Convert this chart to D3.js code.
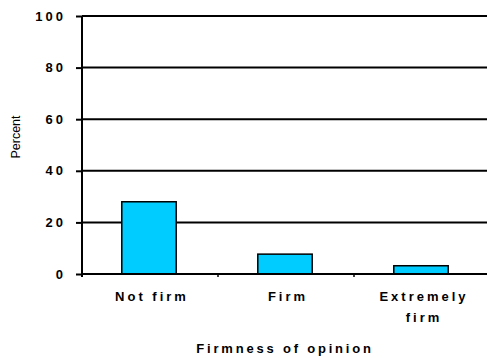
<!DOCTYPE html>
<html>
<head>
<meta charset="utf-8">
<script src="https://cdn.jsdelivr.net/npm/d3@7"></script>
<style>
  body { margin: 0; background: #fff; }
  svg { display: block; font-family: Arial, "Liberation Sans", sans-serif; }
</style>
</head>
<body>
<svg id="chart" width="487" height="358"></svg>
<script>
// chart values
var categories = [["Not firm"], ["Firm"], ["Extremely", "firm"]];
var percents = [28, 7.7, 3.2];
var yTicks = [0, 20, 40, 60, 80, 100];

var svg = d3.select('#chart');
var margin = { left: 82, right: -3, top: 16, bottom: 84 };
var width = 487 - margin.left - margin.right;
var height = 358 - margin.top - margin.bottom;

var g = svg.append('g')
    .attr('transform', 'translate(' + margin.left + ',' + margin.top + ')');

var x = d3.scaleBand()
    .domain(categories.map(function (d, i) { return i; }))
    .range([0, width])
    .padding(0);

var y = d3.scaleLinear()
    .domain([0, 100])
    .range([height, 0]);

// horizontal gridlines
g.selectAll('.grid')
    .data(yTicks.filter(function (d) { return d > 0; }))
    .enter().append('line')
    .attr('x1', 0)
    .attr('x2', width)
    .attr('y1', function (d) { return y(d); })
    .attr('y2', function (d) { return y(d); })
    .style('stroke', '#000')
    .style('stroke-width', 2);

// bars
var barW = x.bandwidth() * 0.4;
g.selectAll('rect')
    .data(percents)
    .enter().append('rect')
    .attr('x', function (d, i) { return x(i) + (x.bandwidth() - barW) / 2 - 1; })
    .attr('y', function (d) { return y(d); })
    .attr('width', barW)
    .attr('height', function (d) { return height - y(d); })
    .style('fill', '#00ccff')
    .style('stroke', '#000')
    .style('stroke-width', 1.5);

// y axis tick marks
var ya = g.append('g').call(d3.axisLeft(y).tickValues(yTicks).tickSize(6).tickFormat(''));
ya.select('.domain').remove();
ya.selectAll('.tick line').style('stroke', '#000').style('stroke-width', 2);
g.append('line')
    .attr('x1', 0).attr('x2', 0)
    .attr('y1', 0).attr('y2', height + 3)
    .style('stroke', '#000')
    .style('stroke-width', 2);

// y tick labels
g.selectAll('.ylab')
    .data(yTicks)
    .enter().append('text')
    .attr('class', 'ylab')
    .attr('x', -16)
    .attr('y', function (d) { return y(d); })
    .attr('dy', '0.36em')
    .attr('text-anchor', 'end')
    .style('font-size', '13px')
    .style('font-weight', 'bold')
    .style('letter-spacing', '3px')
    .style('fill', '#000')
    .text(function (d) { return d; });

// x axis line and ticks between categories
g.append('line')
    .attr('x1', 0).attr('x2', width)
    .attr('y1', height).attr('y2', height)
    .style('stroke', '#000')
    .style('stroke-width', 2);
g.selectAll('.xtick')
    .data(categories.slice(1))
    .enter().append('line')
    .attr('x1', function (d, i) { return x(i + 1); })
    .attr('x2', function (d, i) { return x(i + 1); })
    .attr('y1', height)
    .attr('y2', height + 3)
    .style('stroke', '#000')
    .style('stroke-width', 1.5);

// category labels
var lab = g.selectAll('.cat')
    .data(categories)
    .enter().append('text')
    .attr('class', 'cat')
    .attr('text-anchor', 'middle')
    .attr('transform', function (d, i) {
        return 'translate(' + (x(i) + x.bandwidth() / 2 + 2) + ',' + (height + 27) + ')';
    })
    .style('font-size', '13px')
    .style('font-weight', 'bold')
    .style('letter-spacing', '3px');
lab.selectAll('tspan')
    .data(function (d) { return d; })
    .enter().append('tspan')
    .attr('x', 0)
    .attr('dy', function (d, i) { return i === 0 ? 0 : 21; })
    .text(function (d) { return d; });

// axis titles
svg.append('text')
    .attr('x', 285)
    .attr('y', 353)
    .attr('text-anchor', 'middle')
    .style('font-size', '13px')
    .style('font-weight', 'bold')
    .style('letter-spacing', '2.8px')
    .text('Firmness of opinion');

svg.append('text')
    .attr('transform', 'translate(20,137) rotate(-90)')
    .attr('text-anchor', 'middle')
    .style('font-size', '12.5px')
    .text('Percent');
</script>
</body>
</html>
